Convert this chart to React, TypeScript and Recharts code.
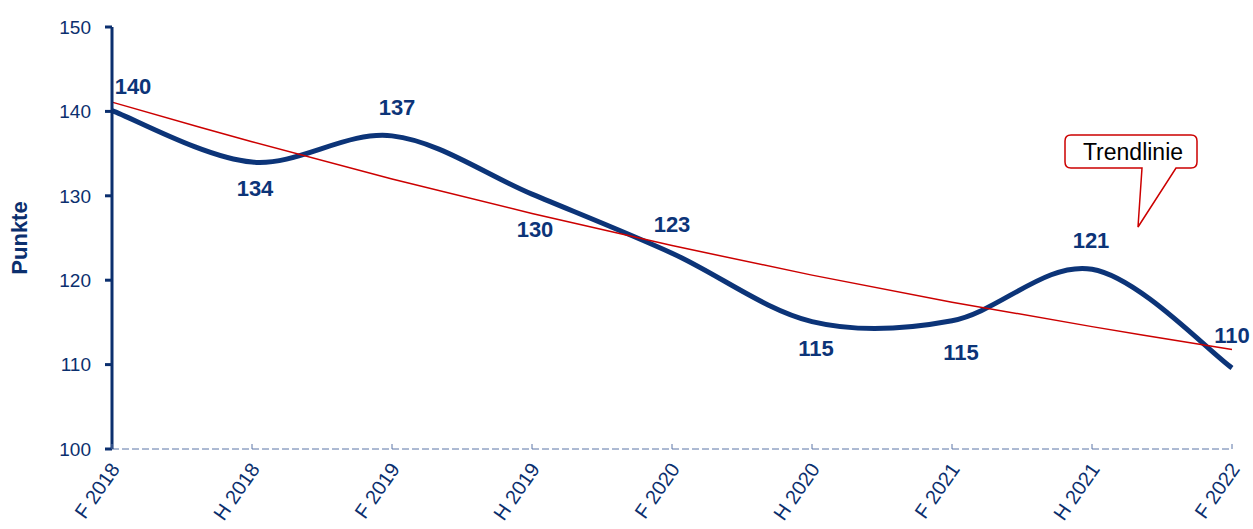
import { LineChart, Line, XAxis, YAxis, Customized } from 'recharts'

const categories = ['F 2018', 'H 2018', 'F 2019', 'H 2019', 'F 2020', 'H 2020', 'F 2021', 'H 2021', 'F 2022']
const punkte = [140.1, 134, 137.1, 130.2, 123.2, 115.1, 115.2, 121.3, 109.6]
const trend = [141.1, 136.4, 132.0, 127.9, 124.1, 120.6, 117.4, 114.5, 111.8]
const yTicks = [100, 110, 120, 130, 140, 150]

// where each value label sits relative to its point
const labelOffsets = [
  [21, -24], [3, 26], [5, -28], [3, 35], [0, -29],
  [4, 27], [9, 32], [-1, -29], [0, -32],
]

const NAVY = '#0b2f6e'
const LINE = '#0c3478'
const RED = '#cc0000'
const AXIS_DASH = '#5a74a6'
const FONT = '"Liberation Sans", Arial, sans-serif'

const data = categories.map((c, i) => ({ name: c, punkte: punkte[i], trend: trend[i] }))

// Excel-like smoothing (uniform Catmull-Rom as bezier segments)
function smoothCurve(context: any) {
  let pts: number[][] = []
  return {
    areaStart() {},
    areaEnd() {},
    lineStart() { pts = [] },
    lineEnd() {
      const n = pts.length
      if (!n) return
      context.moveTo(pts[0][0], pts[0][1])
      for (let i = 0; i < n - 1; i++) {
        const p0 = pts[Math.max(i - 1, 0)]
        const p1 = pts[i]
        const p2 = pts[i + 1]
        const p3 = pts[Math.min(i + 2, n - 1)]
        context.bezierCurveTo(
          p1[0] + (p2[0] - p0[0]) / 6, p1[1] + (p2[1] - p0[1]) / 6,
          p2[0] - (p3[0] - p1[0]) / 6, p2[1] - (p3[1] - p1[1]) / 6,
          p2[0], p2[1],
        )
      }
    },
    point(x: number, y: number) { pts.push([+x, +y]) },
  }
}

function XTick(props: any) {
  const { x, y, payload } = props
  const tx = x + 3
  const ty = y + 16
  return (
    <g>
      <line x1={x} y1={y} x2={x} y2={y - 5} stroke={AXIS_DASH} strokeWidth={1} />
      <text
        x={tx}
        y={ty}
        transform={`rotate(-55, ${tx}, ${ty})`}
        textAnchor="end"
        dominantBaseline="central"
        fill={NAVY}
        fontSize={20}
        fontFamily={FONT}
      >
        {payload.value}
      </text>
    </g>
  )
}

function ValueLabel(props: any) {
  const { x, y, value, index } = props
  if (value == null) return null
  const [dx, dy] = labelOffsets[index] ?? [0, -25]
  return (
    <text
      x={x + dx}
      y={y + dy}
      textAnchor="middle"
      dominantBaseline="central"
      fill={LINE}
      fontSize={22}
      fontWeight="bold"
      fontFamily={FONT}
    >
      {Math.round(value)}
    </text>
  )
}

function Annotations() {
  return (
    <g>
      <text
        x={19}
        y={238}
        transform="rotate(-90, 19, 238)"
        textAnchor="middle"
        dominantBaseline="central"
        fill={NAVY}
        fontSize={22}
        fontWeight="bold"
        fontFamily={FONT}
      >
        Punkte
      </text>
      <path
        d="M1071,135 H1191 Q1197,135 1197,141 V162 Q1197,168 1191,168 H1176 L1138,227 L1142,168 H1071 Q1065,168 1065,162 V141 Q1065,135 1071,135 Z"
        fill="#ffffff"
        stroke={RED}
        strokeWidth={1.5}
      />
      <text
        x={1133}
        y={152}
        textAnchor="middle"
        dominantBaseline="central"
        fill="#000000"
        fontSize={23}
        fontFamily={FONT}
      >
        Trendlinie
      </text>
    </g>
  )
}

export default function App() {
  return (
    <div style={{ position: 'absolute', left: 0, top: 0, background: '#fff' }}>
      <LineChart width={1253} height={529} data={data} margin={{ top: 27, right: 21, bottom: 0, left: 52 }}>
        <XAxis
          dataKey="name"
          axisLine={{ stroke: AXIS_DASH, strokeWidth: 1, strokeDasharray: '7 3' }}
          tickLine={false}
          tickSize={0}
          tickMargin={0}
          tick={<XTick />}
          interval={0}
          height={80}
        />
        <YAxis
          domain={[100, 150]}
          ticks={yTicks}
          width={60}
          axisLine={{ stroke: NAVY, strokeWidth: 3 }}
          tickLine={{ stroke: NAVY, strokeWidth: 3 }}
          tickSize={7}
          tickMargin={14}
          tick={{ fill: NAVY, fontSize: 19, fontFamily: FONT }}
        />
        <Line
          dataKey="punkte"
          type={smoothCurve as any}
          stroke={LINE}
          strokeWidth={5}
          dot={false}
          activeDot={false}
          label={<ValueLabel />}
          isAnimationActive={false}
        />
        <Line
          dataKey="trend"
          type={smoothCurve as any}
          stroke={RED}
          strokeWidth={1.5}
          dot={false}
          activeDot={false}
          isAnimationActive={false}
        />
        <Customized component={Annotations} />
      </LineChart>
    </div>
  )
}
